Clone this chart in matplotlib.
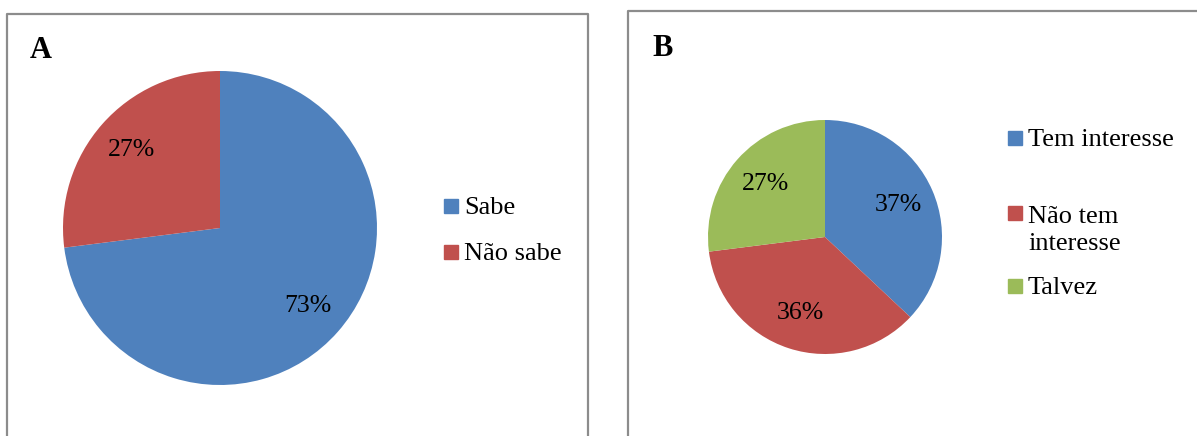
import matplotlib.pyplot as plt
from matplotlib.lines import Line2D
from matplotlib.patches import Rectangle

plt.rcParams["font.family"] = ["Liberation Serif", "DejaVu Serif"]

# dados
labels_a = ["Sabe", "Não sabe"]
valores_a = [73, 27]

labels_b = ["Tem interesse", "Não tem\ninteresse", "Talvez"]
valores_b = [37, 36, 27]

cores = ["#4F81BD", "#C0504D", "#9BBB59"]

W, H = 1197, 436
fig = plt.figure(figsize=(W / 100, H / 100), dpi=100)


def fx(px):
    return px / W


def fy(py):
    return 1 - py / H


def borda(pontos):
    xs = [fx(p[0]) for p in pontos]
    ys = [fy(p[1]) for p in pontos]
    fig.add_artist(Line2D(xs, ys, color="#8c8c8c", lw=1.6, transform=fig.transFigure))


def pizza(cx, cy, r, valores, pctdist):
    ax = fig.add_axes([fx(cx - r), fy(cy + r), 2 * r / W, 2 * r / H])
    ax.pie(valores, colors=cores[:len(valores)], startangle=90, counterclock=False,
           autopct="%d%%", pctdistance=pctdist, radius=1,
           textprops={"fontsize": 18.5, "color": "black"})
    ax.set_xlim(-1, 1)
    ax.set_ylim(-1, 1)
    ax.set_aspect("equal")
    ax.axis("off")


def legenda(x, topos, labels):
    # topos: topo (px) de cada quadrado; o texto fica com a 1a linha alinhada
    for i in range(len(labels)):
        t = topos[i]
        fig.add_artist(Rectangle((fx(x), fy(t + 14)), 14 / W, 14 / H, color=cores[i],
                                 transform=fig.transFigure))
        nlin = labels[i].count("\n")
        fig.text(fx(x + 20), fy(t + 15 + 29 * nlin), labels[i], fontsize=19,
                 va="baseline", ha="left", linespacing=1.32)


# =============================================================================== #
# PAINEL A

borda([(7, 440), (7, 14), (588, 14), (588, 440)])
fig.text(fx(30), fy(58), "A", fontsize=22, fontweight="bold", va="baseline")
pizza(220, 228, 157, valores_a, 0.75)
legenda(444, [199, 245], labels_a)

# =============================================================================== #
# PAINEL B

borda([(628, 440), (628, 11), (1200, 11)])
fig.text(fx(652), fy(56), "B", fontsize=22, fontweight="bold", va="baseline")
pizza(825, 237, 117, valores_b, 0.68)
legenda(1008, [131, 206, 279], labels_b)

fig.savefig("out.png", dpi=100)
